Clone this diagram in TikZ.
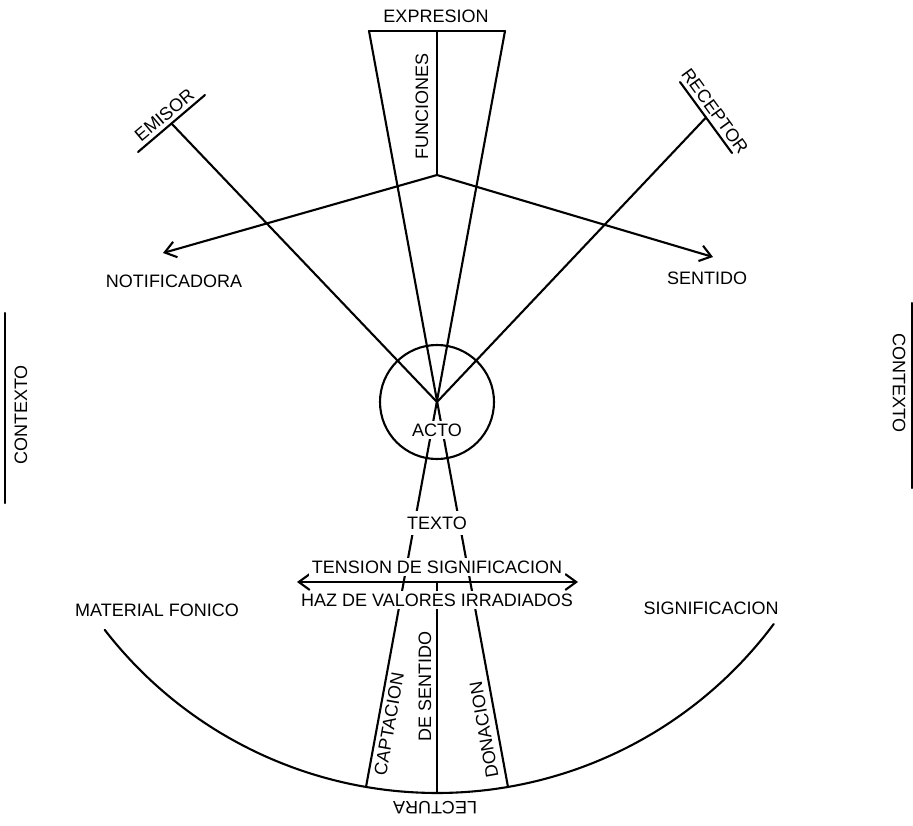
\documentclass[tikz,border=0pt]{standalone}
\usepackage{fontspec}
\setmainfont{Liberation Sans}
\usetikzlibrary{arrows.meta}
\tikzset{mybarb/.tip={Straight Barb[length=11pt,width=16pt,line width=2.1pt]}}
\begin{document}
\begin{tikzpicture}[x=1pt,y=-1pt,
  ln/.style={line width=2.1pt, line cap=round, line join=round},
  lbl/.style={font=\fontsize{18}{21}\selectfont, inner sep=2.5pt},
  barlbl/.style={lbl, inner sep=4.5pt, anchor=south},
  wlbl/.style={lbl, fill=white, inner sep=3pt}]
\useasboundingbox (0,0) rectangle (913,825);
% coordinates
\coordinate (P) at (437,402);
\coordinate (TL) at (369,31);
\coordinate (TR) at (505,31);
\coordinate (TM) at (437,31);
\coordinate (V) at (437,175);
\coordinate (BL) at (366,787);
\coordinate (BR) at (508,787);
\coordinate (NL) at (163,253);
\coordinate (NR) at (713,257);
\coordinate (E1) at (138,152);
\coordinate (E2) at (205,95);
\coordinate (EM) at (171.5,123.5);
\coordinate (R1) at (680,82);
\coordinate (R2) at (732,153);
\coordinate (RM) at (706,117.5);
\coordinate (HL) at (297,582);
\coordinate (HR) at (578,582);
\coordinate (HM) at (437,582);
\coordinate (LB) at (437,793);
\coordinate (CL1) at (5,313);
\coordinate (CL2) at (5,503);
\coordinate (CR1) at (912,303);
\coordinate (CR2) at (912,488);
% lines
\draw[ln] (TL) -- (TR);
\draw[ln] (TM) -- (V);
\draw[ln] (TL) -- (BR);
\draw[ln] (TR) -- (BL);
\draw[ln,-mybarb] (V) -- (NL);
\draw[ln,-mybarb] (V) -- (NR);
\draw[ln] (E1) -- (E2);
\draw[ln] (EM) -- (P);
\draw[ln] (R1) -- (R2);
\draw[ln] (RM) -- (P);
\draw[ln] (P) circle[radius=57pt];
\draw[ln,mybarb-mybarb] (HL) -- (HR);
\draw[ln] (HM) -- (LB);
\draw[ln] plot[domain=142.3:36.7, samples=90, smooth] ({437+420*cos(\x)},{373+420*sin(\x)});
\draw[ln] (CL1) -- (CL2);
\draw[ln] (CR1) -- (CR2);
% labels
\node[lbl] (expr) at (436,16) {EXPRESION};
\node[lbl, rotate=90] (func) at (422,106) {FUNCIONES};
\node[barlbl, rotate=40] (emisor) at (EM) {EMISOR};
\node[barlbl, rotate=-54] (receptor) at (RM) {RECEPTOR};
\node[lbl] (notif) at (174,281) {NOTIFICADORA};
\node[lbl] (sent) at (707,278) {SENTIDO};
\node[wlbl] (acto) at (437,430) {ACTO};
\node[wlbl, inner ysep=6pt] (texto) at (437,523) {TEXTO};
\node[wlbl] (tension) at (437,567) {TENSION DE SIGNIFICACION};
\node[wlbl] (haz) at (437,600) {HAZ DE VALORES IRRADIADOS};
\node[lbl] (mat) at (157,610) {MATERIAL FONICO};
\node[lbl] (signif) at (711,608) {SIGNIFICACION};
\node[lbl, rotate=80] (capt) at (389,724) {CAPTACION};
\node[lbl, rotate=90] (desent) at (425,686) {DE SENTIDO};
\node[lbl, rotate=100] (donac) at (484,730) {DONACION};
\node[lbl, rotate=180] (lect) at (435,808) {LECTURA};
\node[lbl, rotate=90] (ctxl) at (21,415) {CONTEXTO};
\node[lbl, rotate=-90] (ctxr) at (899,383) {CONTEXTO};
\end{tikzpicture}
\end{document}
